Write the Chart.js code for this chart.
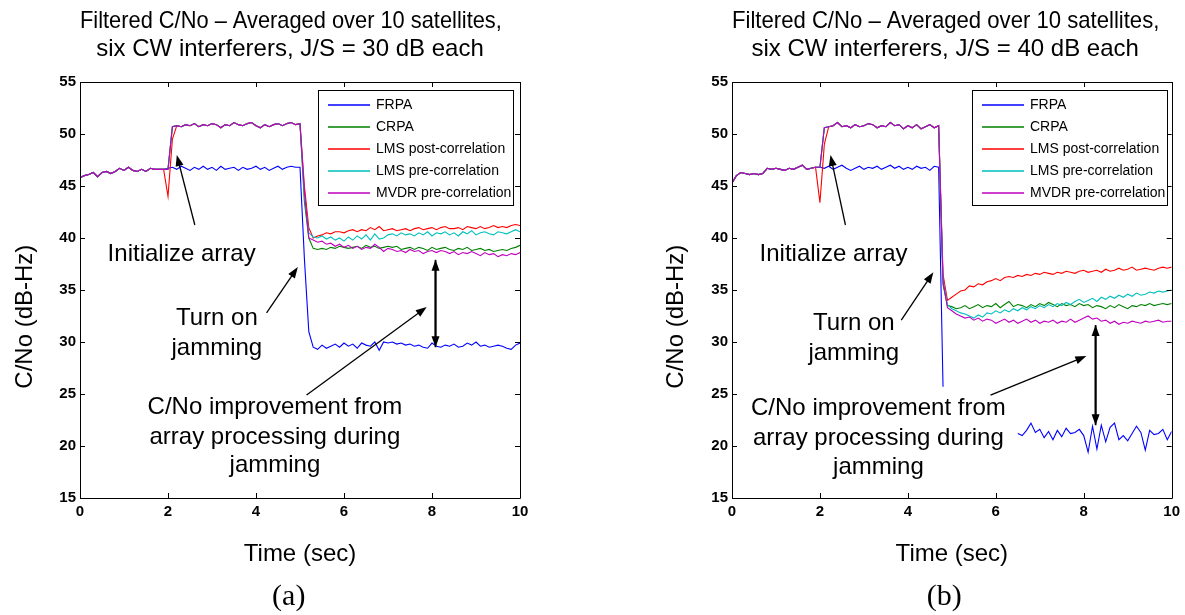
<!DOCTYPE html>
<html>
<head>
<meta charset="utf-8">
<script src="https://cdn.jsdelivr.net/npm/chart.js@4.4.1/dist/chart.umd.min.js"></script>
<style>
  html, body { margin: 0; padding: 0; background: #fff; }
  #wrapA { position: absolute; left: 0; top: 0; }
  #wrapB { position: absolute; left: 592px; top: 0; }
</style>
</head>
<body>
<div id="wrapA"><canvas id="chartA" width="592" height="615"></canvas></div>
<div id="wrapB"><canvas id="chartB" width="593" height="615"></canvas></div>
<script>
const seriesNames = ['FRPA', 'CRPA', 'LMS post-correlation', 'LMS pre-correlation', 'MVDR pre-correlation'];
const seriesColors = ['#0000ff', '#008000', '#ff0000', '#00bfbf', '#bf00bf'];
const xTicks = [0, 2, 4, 6, 8, 10];
const yTicks = [15, 20, 25, 30, 35, 40, 45, 50, 55];

// sample times, one every 0.1 s
const timeSec = [];
for (let i = 0; i <= 100; i++) timeSec.push(i / 10);

// ---- (a) J/S = 30 dB ----
// 0 - 1.9 s, all five curves lie on top of each other
const preA = [45.8, 46.0, 46.1, 46.3, 45.9, 46.3, 46.4, 46.2, 46.4, 46.7,
              46.5, 46.8, 46.5, 46.4, 46.6, 46.4, 46.7, 46.6, 46.6, 46.6];
// 2.1 - 5.0 s, array processing on (adaptive curves overlap)
const holdA = [50.7, 50.8, 50.7, 50.9, 50.8, 51.0, 50.7, 50.9, 50.8,
               51.0, 50.9, 50.6, 50.9, 50.8, 51.1, 50.9, 50.8, 51.0, 51.1,
               50.8, 50.6, 50.9, 50.7, 50.9, 51.0, 50.8, 51.0, 51.1, 50.9,
               51.0];

const frpaA = [...preA,
  46.7, 46.8, 46.6, 46.9, 46.7, 46.5, 46.8, 46.6, 46.9, 46.6,
  46.8, 46.5, 46.9, 46.6, 46.7, 46.8, 46.5, 46.8, 46.6, 46.7,
  46.9, 46.6, 46.8, 46.5, 46.7, 46.9, 46.6, 46.8, 46.9, 46.8,
  46.8, 38.0, 31.0, 29.5, 29.3, 29.7, 29.4, 29.6, 29.8, 29.5,
  29.9, 29.6, 29.8, 29.4, 29.9, 29.7, 29.6, 30.0, 29.2, 30.0,
  29.9, 30.0, 29.8, 29.9, 29.7, 29.8, 29.6, 29.7, 29.5, 29.4,
  29.9, 29.6, 29.5, 29.7, 29.6, 29.8, 29.5, 29.6, 29.9, 29.7,
  30.0, 29.6, 29.7, 29.5, 29.6, 29.7, 29.6, 29.4, 29.3, 29.7, 29.9];

const crpaA = [...preA, 46.6, ...holdA,
  43.5, 40.0, 39.0, 38.9, 39.0, 38.9, 39.1, 39.0, 39.2,
  39.1, 39.0, 39.1, 39.2, 39.0, 39.3, 39.1, 39.2, 39.0, 39.1,
  39.2, 39.1, 39.2, 38.9, 39.0, 39.1, 38.9, 39.1, 39.0, 38.8,
  39.1, 38.9, 39.0, 39.1, 38.9, 38.8, 39.0, 38.9, 39.1, 38.8,
  38.9, 39.0, 38.8, 38.9, 38.7, 38.8, 38.9, 38.8, 39.0, 39.1, 39.3];

const lmsPostA = [...preA, 44.0, 49.5, 50.8, ...holdA.slice(2),
  45.0, 41.0, 40.0, 40.2, 40.3, 40.5, 40.4, 40.6, 40.6,
  40.5, 40.7, 40.8, 40.6, 40.8, 40.7, 41.0, 40.8, 41.1, 40.7,
  40.8, 40.9, 40.7, 40.8, 40.9, 40.7, 40.9, 41.0, 40.8, 40.9,
  41.0, 40.8, 41.0, 41.1, 40.9, 40.9, 41.0, 40.8, 41.1, 41.0,
  40.9, 41.1, 40.9, 41.0, 41.2, 41.0, 41.1, 41.0, 41.2, 41.3, 41.2];

const lmsPreA = [...preA, 46.6, ...holdA,
  44.0, 40.5, 40.1, 40.0, 40.2, 39.9, 40.1, 39.8, 40.0,
  39.7, 40.1, 39.8, 40.2, 39.9, 40.3, 39.8, 40.4, 39.9, 40.0,
  40.3, 40.4, 40.2, 40.5, 40.3, 40.4, 40.2, 40.5, 40.3, 40.6,
  40.2, 40.5, 40.4, 40.6, 40.3, 40.5, 40.2, 40.6, 40.4, 40.7,
  40.3, 40.5, 40.6, 40.4, 40.3, 40.6, 40.5, 40.4, 40.6, 40.8, 40.6];

const mvdrA = [...preA, 46.6, ...holdA,
  44.5, 40.0, 39.8, 39.6, 39.7, 39.4, 39.5, 39.2, 39.4,
  39.1, 39.3, 39.0, 39.2, 38.9, 39.1, 39.0, 39.4, 39.1, 38.7,
  39.0, 38.9, 38.7, 38.8, 38.6, 38.9, 38.7, 38.8, 38.5, 38.7,
  38.8, 38.6, 38.8, 38.7, 38.5, 38.7, 38.4, 38.6, 38.5, 38.7,
  38.5, 38.3, 38.6, 38.4, 38.5, 38.2, 38.4, 38.3, 38.5, 38.4, 38.6];

// ---- (b) J/S = 40 dB ----
const preB = [45.3, 46.0, 46.3, 46.2, 46.1, 46.2, 46.1, 46.2, 46.7, 46.6,
              46.7, 46.6, 46.5, 46.7, 46.6, 46.8, 47.0, 46.6, 46.7, 46.8];
// 2.1 - 4.7 s
const holdB = [50.6, 50.7, 50.8, 51.1, 50.7, 50.8, 50.6, 50.9, 50.7,
               50.8, 51.0, 50.9, 50.6, 50.8, 50.7, 51.1, 50.8, 50.9, 50.5,
               50.8, 50.6, 50.9, 50.5, 50.7, 50.9, 50.6, 50.8];

const frpaB = [...preB,
  46.8, 46.7, 46.9, 46.6, 46.8, 47.0, 46.7, 46.5, 46.7, 46.9,
  46.6, 46.8, 46.7, 46.9, 46.6, 46.8, 47.0, 46.7, 46.9, 46.6,
  46.8, 46.6, 46.9, 46.7, 46.8, 46.5, 46.9, 46.8, 25.7, null,
  null, null, null, null, null, null, null, null, null, null,
  null, null, null, null, null, 21.2, 21.0, 21.5, 22.2, 21.3,
  21.6, 20.8, 21.4, 20.6, 21.5, 20.9, 21.7, 21.2, 21.3, 21.6,
  21.0, 19.4, 21.9, 19.7, 22.0, 20.4, 21.8, 22.2, 20.6, 21.0,
  20.5, 21.2, 21.9, 21.3, 19.6, 21.5, 21.1, 21.2, 21.6, 20.6, 21.4];

const crpaB = [...preB, 46.8, ...holdB, 35.5, 33.5,
  33.4, 33.2, 33.3, 33.5, 33.2, 33.4, 33.6, 33.3, 33.5, 33.4,
  33.7, 33.3, 33.6, 33.9, 33.4, 33.6, 33.5, 33.3, 33.6, 33.4,
  33.7, 33.5, 33.8, 33.6, 33.4, 33.7, 33.5, 33.6, 33.4, 33.7,
  33.5, 33.6, 33.3, 33.5, 33.4, 33.2, 33.5, 33.3, 33.6, 33.4,
  33.2, 33.5, 33.4, 33.6, 33.5, 33.7, 33.5, 33.6, 33.7, 33.6, 33.7];

const lmsPostB = [...preB, 43.4, 49.0, ...holdB.slice(1), 36.5, 34.0,
  34.3, 34.6, 34.9, 35.0, 35.4, 35.3, 35.6, 35.5, 35.8, 35.9,
  36.1, 35.9, 36.2, 36.3, 36.2, 36.4, 36.3, 36.5, 36.4, 36.6,
  36.5, 36.7, 36.6, 36.5, 36.7, 36.6, 36.8, 36.7, 36.6, 36.8,
  36.9, 36.7, 36.8, 36.9, 36.7, 37.0, 36.8, 36.9, 37.1, 36.9,
  37.0, 37.2, 36.9, 37.0, 37.1, 37.0, 36.9, 37.1, 37.2, 37.1, 37.2];

const lmsPreB = [...preB, 46.8, ...holdB, 36.0, 33.6,
  33.2, 33.0, 32.8, 32.7, 32.5, 32.3, 32.6, 32.4, 32.8, 32.7,
  33.0, 32.8, 33.1, 32.9, 33.2, 33.0, 33.3, 33.1, 33.4, 33.2,
  33.5, 33.3, 33.6, 33.4, 33.7, 33.5, 33.8, 33.6, 33.9, 34.1,
  33.8, 34.0, 34.2, 33.9, 34.3, 34.1, 34.4, 34.2, 34.5, 34.3,
  34.6, 34.4, 34.7, 34.5, 34.6, 34.8, 34.7, 34.9, 34.8, 34.9, 35.0];

const mvdrB = [...preB, 46.8, ...holdB, 35.8, 33.3,
  33.0, 32.7, 32.5, 32.3, 32.4, 32.1, 32.3, 32.0, 32.2, 32.1,
  31.8, 32.0, 32.2, 31.9, 32.1, 31.8, 32.0, 32.2, 31.9, 32.1,
  31.8, 32.0, 31.9, 32.1, 31.8, 32.0, 31.9, 32.2, 31.9, 32.1,
  32.3, 32.5, 32.2, 32.3, 32.0, 32.1, 31.8, 32.0, 31.7, 31.9,
  31.8, 32.0, 31.9, 31.8, 32.0, 31.9, 32.0, 32.1, 31.9, 32.0, 32.0];

// annotations, in data units (time s, dB-Hz)
const notesA = [
  {text: 'Initialize array', x: 2.31, y: 38.4},
  {text: 'Turn on', x: 3.11, y: 32.3},
  {text: 'jamming', x: 3.11, y: 29.4},
  {text: 'C/No improvement from', x: 4.43, y: 23.75},
  {text: 'array processing during', x: 4.43, y: 20.87},
  {text: 'jamming', x: 4.43, y: 18.17}
];
const arrowsA = [
  {from: [2.61, 41.25], to: [2.20, 47.98]},
  {from: [4.24, 32.8], to: [4.95, 37.2]},
  {from: [5.15, 24.9], to: [7.88, 33.37]},
  {from: [8.08, 29.5], to: [8.08, 37.9], both: true}
];
const notesB = [
  {text: 'Initialize array', x: 2.31, y: 38.4},
  {text: 'Turn on', x: 2.77, y: 31.8},
  {text: 'jamming', x: 2.77, y: 28.9},
  {text: 'C/No improvement from', x: 3.33, y: 23.65},
  {text: 'array processing during', x: 3.33, y: 20.77},
  {text: 'jamming', x: 3.33, y: 17.98}
];
const arrowsB = [
  {from: [2.58, 41.25], to: [2.24, 47.98]},
  {from: [3.85, 32.1], to: [4.58, 36.7]},
  {from: [5.88, 24.9], to: [8.06, 28.65]},
  {from: [8.27, 22.0], to: [8.27, 31.63], both: true}
];

const SANS = '"Liberation Sans", Arial, sans-serif';
const SERIF = '"Liberation Serif", "Times New Roman", serif';
const NB = '\u00a0';
Chart.defaults.font.family = SANS;
Chart.defaults.color = '#000';

function drawArrow(ctx, x1, y1, x2, y2) {
  const a = Math.atan2(y2 - y1, x2 - x1), L = 11, W = 4;
  ctx.beginPath();
  ctx.moveTo(x1, y1);
  ctx.lineTo(x2 - 0.8 * L * Math.cos(a), y2 - 0.8 * L * Math.sin(a));
  ctx.stroke();
  ctx.beginPath();
  ctx.moveTo(x2, y2);
  ctx.lineTo(x2 - L * Math.cos(a) + W * Math.sin(a), y2 - L * Math.sin(a) - W * Math.cos(a));
  ctx.lineTo(x2 - L * Math.cos(a) - W * Math.sin(a), y2 - L * Math.sin(a) + W * Math.cos(a));
  ctx.closePath();
  ctx.fill();
}

// box, inward ticks, legend and notes the way matlab draws them
const matlabLook = {
  id: 'matlabLook',
  afterDatasetsDraw(chart, args, opts) {
    const {ctx, chartArea: a} = chart;
    const px = v => chart.scales.x.getPixelForValue(v);
    const py = v => chart.scales.y.getPixelForValue(v);
    ctx.save();
    ctx.strokeStyle = '#000';
    ctx.lineWidth = 1;
    ctx.beginPath();
    ctx.rect(Math.round(a.left) + 0.5, Math.round(a.top) + 0.5, Math.round(a.right - a.left), Math.round(a.bottom - a.top));
    xTicks.forEach(v => {
      const X = Math.round(px(v)) + 0.5;
      ctx.moveTo(X, a.bottom); ctx.lineTo(X, a.bottom - 5);
      ctx.moveTo(X, a.top); ctx.lineTo(X, a.top + 5);
    });
    yTicks.forEach(v => {
      const Y = Math.round(py(v)) + 0.5;
      ctx.moveTo(a.left, Y); ctx.lineTo(a.left + 5, Y);
      ctx.moveTo(a.right, Y); ctx.lineTo(a.right - 5, Y);
    });
    ctx.stroke();

    // legend
    const lw = 195, lh = 115;
    const bx = Math.round(a.right - opts.legendInset - lw), by = Math.round(a.top + 8);
    ctx.fillStyle = '#fff';
    ctx.fillRect(bx, by, lw, lh);
    ctx.strokeRect(bx + 0.5, by + 0.5, lw, lh);
    ctx.font = '14px ' + SANS;
    ctx.textAlign = 'left';
    ctx.textBaseline = 'middle';
    chart.data.datasets.forEach((ds, k) => {
      const ry = by + 15 + k * 22;
      ctx.strokeStyle = ds.borderColor;
      ctx.lineWidth = 1.5;
      ctx.beginPath(); ctx.moveTo(bx + 10, ry); ctx.lineTo(bx + 52, ry); ctx.stroke();
      ctx.fillStyle = '#000';
      ctx.fillText(ds.label, bx + 58, ry);
    });

    // notes and arrows
    ctx.fillStyle = '#000';
    ctx.strokeStyle = '#000';
    ctx.font = '24px ' + SANS;
    ctx.textAlign = 'center';
    opts.notes.forEach(n => ctx.fillText(n.text, px(n.x), py(n.y)));
    opts.arrows.forEach(ar => {
      const x1 = px(ar.from[0]), y1 = py(ar.from[1]), x2 = px(ar.to[0]), y2 = py(ar.to[1]);
      ctx.lineWidth = ar.both ? 1.8 : 1.3;
      drawArrow(ctx, x1, y1, x2, y2);
      if (ar.both) drawArrow(ctx, x2, y2, x1, y1);
    });
    ctx.restore();
  }
};

function makeChart(id, title, caption, series, pad, yWidth, notes, arrows, legendInset) {
  return new Chart(document.getElementById(id), {
    type: 'line',
    data: {
      datasets: series.map((vals, k) => ({
        label: seriesNames[k],
        data: vals.map((v, i) => ({x: timeSec[i], y: v})),
        borderColor: seriesColors[k],
        backgroundColor: seriesColors[k],
        borderWidth: 1.1,
        pointRadius: 0,
        tension: 0,
        fill: false,
        spanGaps: false,
        order: 5 - k
      }))
    },
    options: {
      responsive: false,
      animation: false,
      events: [],
      layout: {padding: pad},
      plugins: {
        legend: {display: false},
        tooltip: {enabled: false},
        title: {
          display: true, text: title, fullSize: false, color: '#000',
          font: {family: SANS, size: 24, weight: 'normal', lineHeight: 1.1667},
          padding: {top: 7, bottom: 19}
        },
        subtitle: {
          display: true, text: caption, position: 'bottom', fullSize: false, color: '#000',
          font: {family: SERIF, size: 30, weight: 'normal', lineHeight: 1.2},
          padding: {top: 0, bottom: 0}
        },
        matlabLook: {notes: notes, arrows: arrows, legendInset: legendInset}
      },
      scales: {
        x: {
          type: 'linear', min: 0, max: 10,
          afterBuildTicks: s => { s.ticks = xTicks.map(v => ({value: v})); },
          afterFit: s => { s.height = 81; },
          grid: {display: false, drawTicks: false},
          border: {display: false},
          ticks: {color: '#000', padding: 5, maxRotation: 0, font: {size: 15, weight: 'bold'}},
          title: {display: true, text: 'Time (sec)', color: '#000', font: {size: 24}, padding: {top: 4, bottom: 10.6}}
        },
        y: {
          type: 'linear', min: 15, max: 55,
          afterBuildTicks: s => { s.ticks = yTicks.map(v => ({value: v})); },
          afterFit: s => { s.width = yWidth; },
          grid: {display: false, drawTicks: false},
          border: {display: false},
          ticks: {color: '#000', padding: 4, font: {size: 15, weight: 'bold'}},
          title: {display: true, text: 'C/No (dB-Hz)' + NB.repeat(8), color: '#000', font: {size: 24}, padding: {top: 4, bottom: 4}}
        }
      }
    },
    plugins: [matlabLook]
  });
}

makeChart('chartA',
  ['Filtered C/No \u2013 Averaged over 10 satellites,' + NB.repeat(3), 'six CW interferers, J/S = 30 dB each' + NB.repeat(3)],
  '(a)' + NB.repeat(3),
  [frpaA, crpaA, lmsPostA, lmsPreA, mvdrA],
  {left: 6.6, right: 72, top: 0, bottom: 0}, 73.4, notesA, arrowsA, 7);

makeChart('chartB',
  ['Filtered C/No \u2013 Averaged over 10 satellites,' + NB.repeat(2), 'six CW interferers, J/S = 40 dB each' + NB.repeat(2)],
  '(b)' + NB.repeat(2),
  [frpaB, crpaB, lmsPostB, lmsPreB, mvdrB],
  {left: 65.6, right: 12, top: 0, bottom: 0}, 74.4, notesB, arrowsB, 5);
</script>
</body>
</html>
